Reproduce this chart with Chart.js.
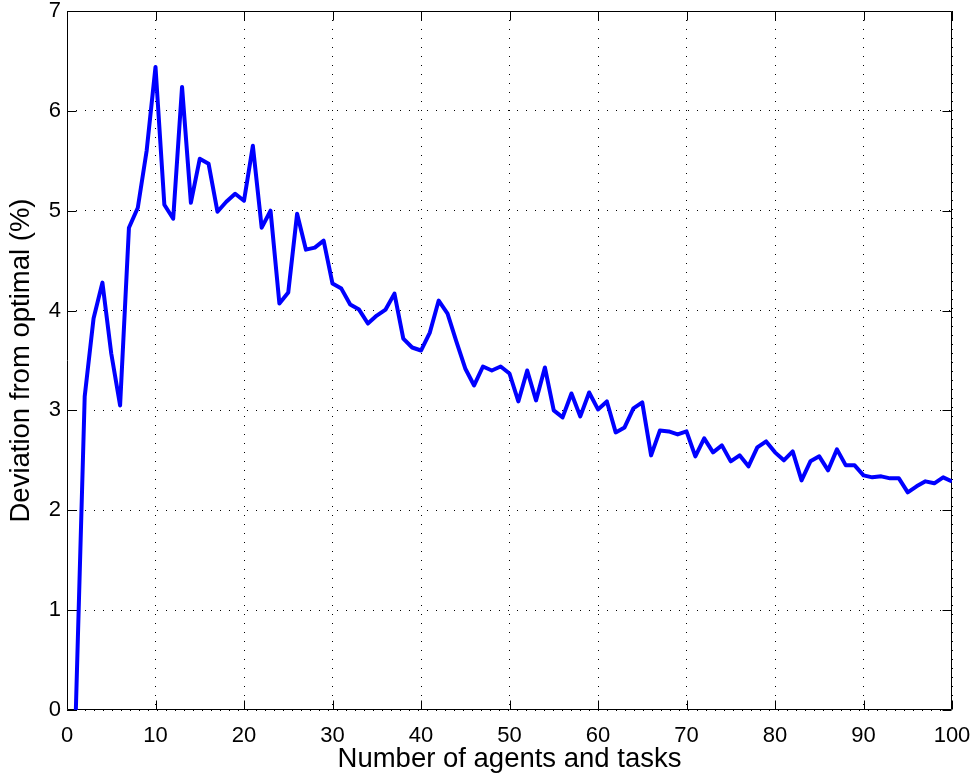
<!DOCTYPE html>
<html>
<head>
<meta charset="utf-8">
<script src="https://cdn.jsdelivr.net/npm/chart.js@4.4.1/dist/chart.umd.min.js"></script>
<style>
  html, body { margin: 0; padding: 0; background: #fff; }
  #wrap { width: 976px; height: 776px; }
</style>
</head>
<body>
<div id="wrap"><canvas id="deviationChart"></canvas></div>
<script>
const agentCounts = [
    1, 2, 3, 4, 5, 6, 7, 8, 9, 10, 11, 12, 13, 14, 15, 16, 17, 18, 19, 20,
    21, 22, 23, 24, 25, 26, 27, 28, 29, 30, 31, 32, 33, 34, 35, 36, 37, 38, 39, 40,
    41, 42, 43, 44, 45, 46, 47, 48, 49, 50, 51, 52, 53, 54, 55, 56, 57, 58, 59, 60,
    61, 62, 63, 64, 65, 66, 67, 68, 69, 70, 71, 72, 73, 74, 75, 76, 77, 78, 79, 80,
    81, 82, 83, 84, 85, 86, 87, 88, 89, 90, 91, 92, 93, 94, 95, 96, 97, 98, 99, 100
];

const deviation = [
    0.00, 3.14, 3.92, 4.28, 3.57, 3.05, 4.83, 5.03, 5.60, 6.44,
    5.06, 4.92, 6.24, 5.08, 5.52, 5.47, 4.99, 5.09, 5.17, 5.10,
    5.65, 4.83, 5.00, 4.07, 4.18, 4.97, 4.61, 4.63, 4.70, 4.27,
    4.22, 4.06, 4.01, 3.87, 3.95, 4.01, 4.17, 3.72, 3.63, 3.60,
    3.78, 4.10, 3.97, 3.69, 3.42, 3.25, 3.44, 3.40, 3.44, 3.37,
    3.09, 3.40, 3.10, 3.43, 3.00, 2.93, 3.17, 2.94, 3.18, 3.01,
    3.09, 2.78, 2.83, 3.02, 3.08, 2.55, 2.80, 2.79, 2.76, 2.79,
    2.54, 2.72, 2.58, 2.65, 2.49, 2.55, 2.44, 2.63, 2.69, 2.58,
    2.50, 2.59, 2.30, 2.49, 2.54, 2.40, 2.61, 2.45, 2.45, 2.35,
    2.33, 2.34, 2.32, 2.32, 2.18, 2.24, 2.29, 2.27, 2.33, 2.29
];

const xTicks = [0, 10, 20, 30, 40, 50, 60, 70, 80, 90, 100];
const yTicks = [0, 1, 2, 3, 4, 5, 6, 7];

const FONT = '"Liberation Sans", Arial, Helvetica, sans-serif';
const TICK_LEN = 9;

// matlab style box + inward ticks on all four sides
const frameTicks = {
    id: 'frameTicks',
    beforeDatasetsDraw(chart) {
        const { ctx, chartArea: a, scales: { x, y } } = chart;
        const L = Math.round(a.left) + 0.5, R = Math.round(a.right) - 0.5;
        const T = Math.round(a.top) + 0.5, B = Math.round(a.bottom) - 0.5;
        ctx.save();
        ctx.strokeStyle = '#000';
        ctx.lineWidth = 1;
        ctx.beginPath();
        ctx.rect(L, T, R - L, B - T);
        x.ticks.forEach(t => {
            const px = Math.round(x.getPixelForValue(t.value)) + 0.5;
            ctx.moveTo(px, B); ctx.lineTo(px, B - TICK_LEN);
            ctx.moveTo(px, T); ctx.lineTo(px, T + TICK_LEN);
        });
        y.ticks.forEach(t => {
            const py = Math.round(y.getPixelForValue(t.value)) + 0.5;
            ctx.moveTo(L, py); ctx.lineTo(L + TICK_LEN, py);
            ctx.moveTo(R, py); ctx.lineTo(R - TICK_LEN, py);
        });
        ctx.stroke();
        ctx.restore();
    }
};

const ctx = document.getElementById('deviationChart').getContext('2d');

new Chart(ctx, {
    type: 'line',
    data: {
        datasets: [{
            data: deviation.map((v, i) => ({ x: agentCounts[i], y: v })),
            borderColor: '#0000ff',
            borderWidth: 4,
            pointRadius: 0,
            tension: 0,
            fill: false,
            borderJoinStyle: 'round'
        }]
    },
    options: {
        responsive: true,
        maintainAspectRatio: false,
        animation: false,
        devicePixelRatio: 1,
        layout: { padding: { top: 11, right: 24, left: 0, bottom: 0 } },
        plugins: {
            legend: { display: false },
            tooltip: { enabled: false }
        },
        scales: {
            x: {
                type: 'linear',
                min: 0,
                max: 100,
                afterBuildTicks: s => { s.ticks = xTicks.map(v => ({ value: v })); },
                afterFit: s => { s.height = 66; s.paddingLeft = 0; s.paddingRight = 0; },
                grid: { color: '#000', lineWidth: 1, drawTicks: false },
                border: { display: false, dash: [1, 8] },
                ticks: {
                    color: '#000',
                    padding: 15,
                    maxRotation: 0,
                    autoSkip: false,
                    font: { family: FONT, size: 22, lineHeight: 1 }
                },
                title: {
                    display: true,
                    text: 'Number of agents and tasks',
                    color: '#000',
                    padding: { top: 0, bottom: 3 },
                    font: { family: FONT, size: 27.5, lineHeight: 1 }
                }
            },
            y: {
                min: 0,
                max: 7,
                afterBuildTicks: s => { s.ticks = yTicks.map(v => ({ value: v })); },
                afterFit: s => { s.width = 67; s.paddingTop = 0; s.paddingBottom = 0; },
                grid: { color: '#000', lineWidth: 1, drawTicks: false },
                border: { display: false, dash: [1, 8] },
                ticks: {
                    color: '#000',
                    padding: 6,
                    autoSkip: false,
                    font: { family: FONT, size: 22, lineHeight: 1 }
                },
                title: {
                    display: true,
                    text: 'Deviation from optimal (%)',
                    color: '#000',
                    padding: { top: 8, bottom: 0 },
                    font: { family: FONT, size: 27.5, lineHeight: 1 }
                }
            }
        }
    },
    plugins: [frameTicks]
});
</script>
</body>
</html>
